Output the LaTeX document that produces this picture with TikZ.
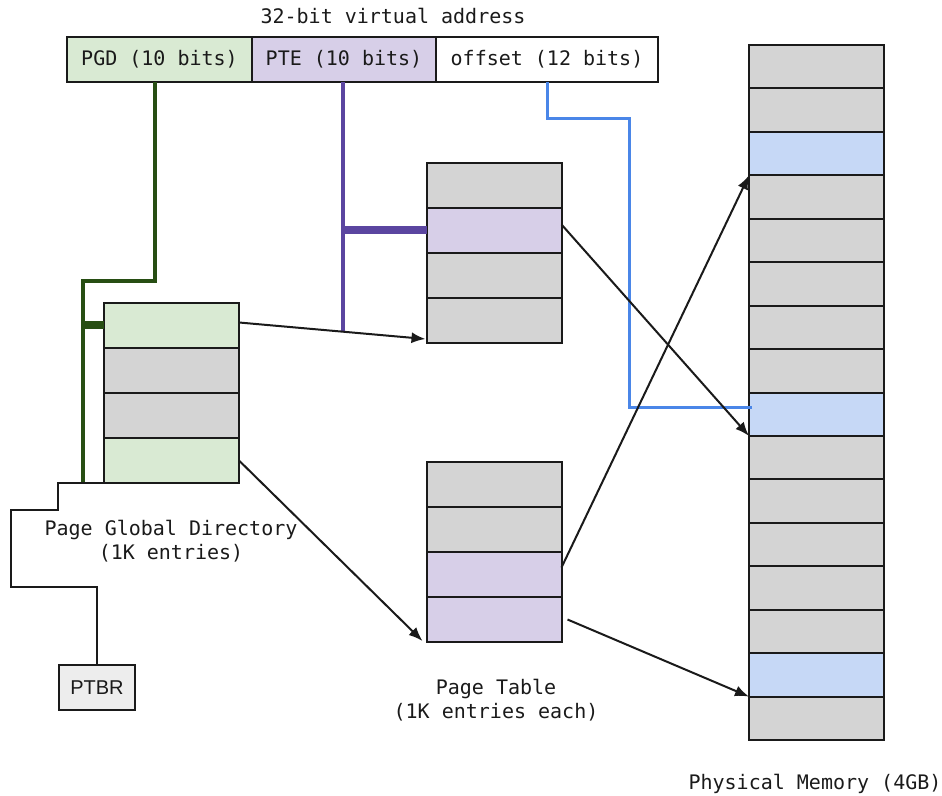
\documentclass[tikz,border=0pt]{standalone}
\usepackage{fontspec}
\setmonofont{DejaVu Sans Mono}
\setsansfont{Liberation Sans}
\usepackage{tikz}
\usetikzlibrary{arrows.meta,positioning}
\definecolor{slot}{HTML}{D4D4D4}
\definecolor{pgdfill}{HTML}{D9EAD3}
\definecolor{ptefill}{HTML}{D7CFE8}
\definecolor{hitfill}{HTML}{C6D8F6}
\definecolor{pgdgreen}{HTML}{274E13}
\definecolor{ptepurple}{HTML}{5B45A0}
\definecolor{offblue}{HTML}{4A86E8}
\definecolor{ink}{HTML}{1A1A1A}

\begin{document}
\begin{tikzpicture}[x=0.5pt, y=-0.5pt, every node/.style={font=\ttfamily\fontsize{10}{12}\selectfont, text=ink}, field/.style={draw=ink,line width=1pt,minimum height=22.5pt,inner sep=0pt,outer sep=0pt}, cell/.style={draw=ink,line width=1pt,fill=slot,minimum width=67.5pt,minimum height=22.5pt,inner sep=0pt,outer sep=0pt}, memcell/.style={cell,minimum height=21.72pt}, label/.style={align=center}, arr/.style={-{Latex[length=7pt,width=5.5pt]},line width=1pt,draw=ink}, wire/.style={line width=0.8pt,draw=ink}]
\useasboundingbox (0,0) rectangle (942,796);

% virtual address fields
\node (title) at (393,16) {32-bit virtual address};
\node[field,fill=pgdfill,minimum width=92.5pt] (pgdf) at (159.5,59.5) {PGD (10 bits)};
\node[field,fill=ptefill,minimum width=92pt,right=0pt of pgdf] (ptef) {PTE (10 bits)};
\node[field,fill=white,minimum width=111pt,right=0pt of ptef] (offf) {offset (12 bits)};

% page global directory
\node[cell,fill=pgdfill] (pgd1) at (171.5,325.5) {};
\node[cell,below=0pt of pgd1] (pgd2) {};
\node[cell,below=0pt of pgd2] (pgd3) {};
\node[cell,fill=pgdfill,below=0pt of pgd3] (pgd4) {};
\node[label] (pgdlabel) at (171,541.5) {Page Global Directory\\(1K entries)};

% page tables
\node[cell] (pt1a) at (494,185.5) {};
\node[cell,fill=ptefill,below=0pt of pt1a] (pt1b) {};
\node[cell,below=0pt of pt1b] (pt1c) {};
\node[cell,below=0pt of pt1c] (pt1d) {};
\node[cell] (pt2a) at (494,484.5) {};
\node[cell,below=0pt of pt2a] (pt2b) {};
\node[cell,fill=ptefill,below=0pt of pt2b] (pt2c) {};
\node[cell,fill=ptefill,below=0pt of pt2c] (pt2d) {};
\node[label] (ptlabel) at (496,700) {Page Table\\(1K entries each)};

% physical memory frames
\foreach \i/\c in {1/slot,2/slot,3/hitfill,4/slot,5/slot,6/slot,7/slot,8/slot,9/hitfill,10/slot,11/slot,12/slot,13/slot,14/slot,15/hitfill,16/slot}
  \node[memcell,fill=\c] (pm\i) at (816.5,{45+(\i-0.5)*43.44}) {};
\node (pmlabel) at (815,784) {Physical Memory (4GB)};

% base register
\node[draw=ink,line width=1pt,fill=black!7,minimum width=38pt,minimum height=22.5pt,inner sep=0pt,font=\sffamily\fontsize{10}{12}\selectfont] (ptbr) at (97,687.5) {PTBR};

% index lines
\coordinate (pgdbend) at (83,281);
\coordinate (pteend) at (343,332);
\coordinate (offbend) at (629,119);
\draw[pgdgreen,line width=2pt] ([xshift=-2.25pt]pgdf.south) |- (pgdbend) -- (pgdbend |- pgd4.south);
\draw[pgdgreen,line width=4pt] (pgdbend |- pgd1.west) -- (pgd1.west);
\draw[ptepurple,line width=2pt] (ptef.south -| pteend) -- (pteend);
\draw[ptepurple,line width=4pt] (pteend |- pt1b.west) -- (pt1b.west);
\draw[offblue,line width=1.5pt] (offf.south) |- (offbend) |- ([xshift=1.5pt,yshift=3.5pt]pm9.west);
\draw[wire] (pgd4.south west) -- ++(-46,0) -- ++(0,27) -- ++(-47,0) -- ++(0,77) -| (ptbr.north);

% translation arrows
\draw[arr] ([yshift=1.5pt]pgd1.east) -- ([xshift=-0.5pt,yshift=2pt]pt1d.south west);
\draw[arr] (pgd4.east) -- ([xshift=-2pt,yshift=0.5pt]pt2d.south west);
\draw[arr] ([yshift=3pt]pt1b.east) -- (pm9.south west);
\draw[arr] ([yshift=3.5pt]pt2c.east) -- (pm3.south west);
\draw[arr] ([xshift=3pt]pt2d.east) -- (pm15.south west);
\end{tikzpicture}
\end{document}
